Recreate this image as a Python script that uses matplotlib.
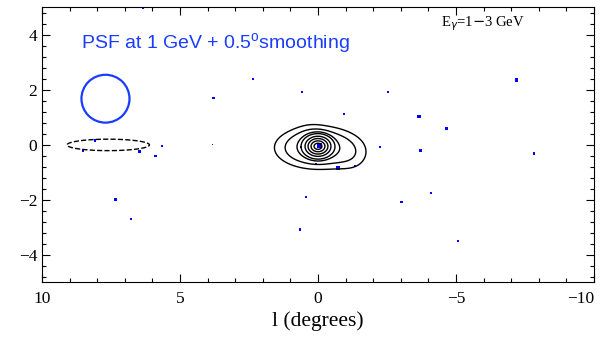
import numpy as np
import matplotlib.pyplot as plt
from matplotlib.patches import Circle
from matplotlib.ticker import MultipleLocator

# blue photon positions (l, b) in degrees and marker size
dot_l = [6.35, 3.79, 2.34, 0.59, -0.94, -2.55, -3.66, -4.65, -7.19, -7.83,
         3.83, 0.62, -0.04, -2.25, -3.72, 0.08, -0.73, -1.34, 0.44, -3.03,
         -4.09, 0.66, -5.08, 8.09, 8.52, 6.46, 5.66, 5.89, 7.33, 6.76]
dot_b = [4.96, 1.70, 2.41, 1.91, 1.13, 1.92, 1.03, 0.60, 2.36, -0.31,
         0.02, -0.07, -0.02, -0.08, -0.20, -0.70, -0.84, -0.77, -1.88, -2.08,
         -1.75, -3.07, -3.48, 0.16, -0.20, -0.25, -0.04, -0.41, -1.99, -2.68]
dot_s = [2, 3, 2, 2, 3, 2, 6, 3, 6, 3,
         1, 3, 12, 3, 3, 2, 6, 3, 2, 3,
         1, 3, 2, 3, 3, 6, 2, 3, 6, 2]

# smoothed count map: components (l, b, amplitude, sigma_l, sigma_b)
comp_l = [0.0, 0.0, -1.25, 0.25, 7.6]
comp_b = [-0.05, -0.1, -0.5, 0.35, 0.0]
comp_amp = [1.0, 0.04, 0.006, 0.004, -0.02]
comp_sl = [0.22, 0.9, 0.45, 0.35, 1.15]
comp_sb = [0.173, 0.45, 0.4, 0.3, 0.16]
levels = [-0.0086, 0.0086, 0.0167, 0.031, 0.053, 0.139, 0.30, 0.56, 0.85]

x_ticks = [10, 5, 0, -5, -10]
x_ticklabels = ['10', '5', '0', '\u22125', '\u221210']

psf_l, psf_b, psf_r = 7.7, 1.68, 0.87

ll, bb = np.meshgrid(np.linspace(-10, 10, 801), np.linspace(-5, 5, 401))
img = np.zeros_like(ll)
for l0, b0, a, sl, sb in zip(comp_l, comp_b, comp_amp, comp_sl, comp_sb):
    img += a * np.exp(-0.5 * ((ll - l0) / sl) ** 2 - 0.5 * ((bb - b0) / sb) ** 2)

fig = plt.figure(figsize=(6, 3.37), dpi=100)
ax = fig.add_axes([0.07, 0.162, 0.92, 0.816])

ax.contour(ll, bb, img, levels=levels, colors='black', linewidths=1.0,
           negative_linestyles='dashed')
ax.scatter(dot_l, dot_b, s=dot_s, marker='s', color='blue', linewidths=0)
ax.add_patch(Circle((psf_l, psf_b), psf_r, fill=False, edgecolor='#1a3cff', lw=1.6))

ax.text(8.6, 3.5, 'PSF at 1 GeV + 0.5$^\\mathregular{o}$smoothing', color='#1a3cff',
        fontsize=14, family='Liberation Sans')
ax.text(-4.45, 4.3, 'E$_\\gamma$=1$-$3 GeV', fontsize=10.5, family='Liberation Serif')

ax.set_xlim(10, -10)
ax.set_ylim(-5, 5)
ax.set_xticks(x_ticks)
ax.set_xticklabels(x_ticklabels)
ax.xaxis.set_minor_locator(MultipleLocator(1))
ax.yaxis.set_major_locator(MultipleLocator(2))
ax.yaxis.set_minor_locator(MultipleLocator(0.4))
ax.tick_params(which='both', direction='in', top=True, right=True, width=0.8)
ax.tick_params(which='major', length=6, labelsize=12.5)
ax.tick_params(axis='x', which='major', pad=6)
ax.tick_params(which='minor', length=3)
ax.set_xlabel('l (degrees)', fontsize=15.5, family='Liberation Serif', labelpad=3)

fig.canvas.draw()
for lab in ax.get_xticklabels() + ax.get_yticklabels():
    lab.set_family('Liberation Serif')
# keep the last x label inside the figure
ax.get_xticklabels()[-1].set_horizontalalignment('right')

plt.savefig('out.png')
